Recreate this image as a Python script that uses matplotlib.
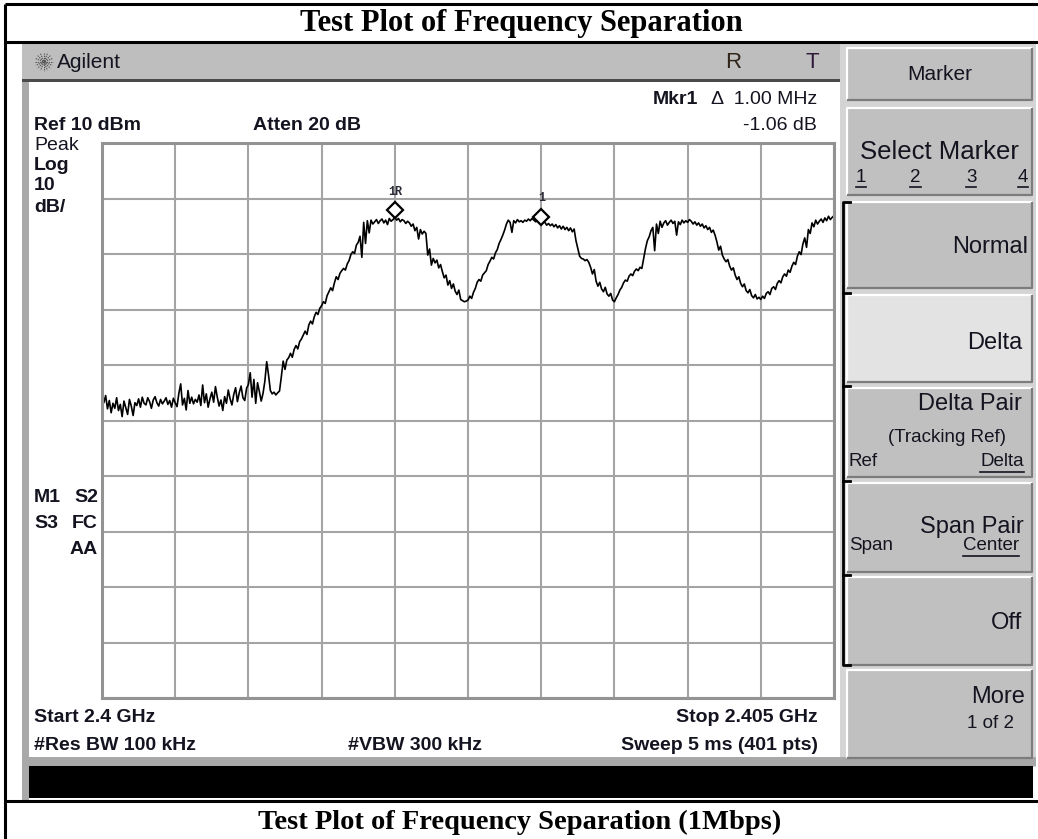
#!/usr/bin/env python3
'''Spectrum analyser screen capture: frequency separation test plot.'''

import matplotlib
matplotlib.use('Agg')
import matplotlib.pyplot as plt
from matplotlib.patches import Rectangle
from matplotlib.transforms import offset_copy
import numpy as np


W, H = 1038, 839

start_mhz = 2400.0
stop_mhz = 2405.0
points = 401
ref_dbm = 10
db_per_div = 10

# trace in dBm, one value per sweep point (40 points per division)
trace_div0 = [-35.2, -36.8, -35.5, -37.9, -36.4, -38.6, -36.9, -37.8, -35.9, -38.2,
              -37.1, -39.3, -36.5, -37.7, -38.9, -36.2, -37.4, -39.1, -36.8, -37.3,
              -36.1, -37.6, -35.8, -36.9, -37.2, -35.9, -36.6, -37.8, -36.3, -35.7,
              -36.8, -37.4, -36.2, -37.0, -36.5, -35.9, -37.1, -36.4, -37.6, -36.0]
trace_div1 = [-36.8, -37.5, -35.1, -33.4, -37.2, -36.0, -38.1, -34.6, -36.9, -35.8,
              -37.0, -36.2, -36.7, -35.4, -37.3, -33.6, -36.8, -35.2, -37.6, -36.1,
              -34.9, -36.7, -33.9, -35.8, -37.4, -36.3, -38.2, -35.7, -36.9, -34.5,
              -36.1, -37.2, -35.3, -34.1, -36.6, -35.0, -33.8, -35.9, -36.4, -34.2]
trace_div2 = [-33.5, -31.4, -35.8, -32.6, -36.9, -33.2, -34.8, -36.5, -35.1, -32.9,
              -29.4, -31.8, -34.6, -35.2, -34.9, -35.4, -35.0, -34.7, -32.1, -29.3,
              -30.8, -29.1, -28.7, -27.9, -28.6, -27.2, -26.5, -27.1, -25.8, -25.3,
              -24.6, -23.9, -24.5, -22.8, -22.1, -22.6, -21.3, -20.5, -20.9, -19.8]
trace_div3 = [-19.3, -18.6, -18.9, -17.5, -16.8, -16.1, -16.6, -15.2, -14.1, -14.6,
              -13.5, -13.0, -12.6, -12.9, -11.8, -11.2, -10.1, -9.6, -9.9, -8.4,
              -7.9, -6.8, -10.6, -4.3, -8.1, -4.0, -6.2, -3.9, -4.6, -4.2,
              -3.8, -4.5, -4.0, -3.7, -4.4, -3.9, -4.7, -3.6, -4.1, -3.8]
trace_div4 = [-3.4, -3.9, -3.6, -4.2, -3.8, -4.0, -4.5, -4.1, -4.4, -5.0,
              -4.6, -5.8, -5.2, -7.3, -5.6, -6.4, -5.9, -6.3, -10.2, -9.1,
              -12.0, -10.8, -11.6, -11.1, -12.5, -11.9, -13.2, -14.3, -13.8, -15.6,
              -14.8, -16.2, -15.4, -16.7, -17.3, -16.5, -18.2, -18.4, -18.6, -18.5]
trace_div5 = [-18.3, -17.6, -18.0, -16.9, -16.2, -15.1, -14.6, -14.9, -13.8, -13.4,
              -13.0, -11.9, -11.3, -10.6, -10.9, -9.8, -9.2, -8.1, -7.4, -6.6,
              -5.7, -4.6, -3.9, -4.3, -6.1, -4.0, -4.4, -3.8, -4.2, -4.0,
              -4.3, -3.9, -4.1, -3.7, -4.0, -3.6, -3.9, -4.2, -3.8, -4.1]
trace_div6 = [-4.5, -4.0, -4.3, -4.8, -4.5, -4.9, -4.6, -5.1, -4.7, -5.3,
              -4.9, -5.5, -5.0, -5.6, -5.2, -5.8, -5.3, -6.0, -5.5, -7.6,
              -9.0, -10.4, -10.8, -10.9, -11.2, -11.0, -11.5, -12.4, -13.6, -12.8,
              -14.9, -15.8, -15.1, -16.3, -16.8, -16.0, -17.2, -17.6, -17.1, -18.3]
trace_div7 = [-18.6, -17.9, -17.3, -16.5, -16.0, -15.2, -14.7, -14.9, -14.0, -13.6,
              -13.9, -13.1, -12.7, -13.0, -12.4, -12.6, -10.8, -9.0, -7.6, -6.9,
              -5.8, -5.2, -9.4, -4.6, -6.3, -4.1, -5.2, -4.4, -4.0, -4.8,
              -4.3, -3.9, -4.5, -4.1, -6.6, -4.2, -4.7, -3.9, -4.4, -4.0]
trace_div8 = [-4.3, -3.8, -4.1, -4.6, -4.2, -4.8, -4.4, -5.0, -4.6, -5.3,
              -4.9, -5.6, -5.2, -6.1, -5.7, -6.6, -7.8, -9.3, -8.6, -10.2,
              -10.9, -11.4, -11.0, -12.2, -12.9, -12.5, -13.8, -14.6, -14.1, -15.3,
              -15.9, -15.4, -16.6, -17.0, -16.4, -17.5, -17.9, -17.3, -18.1, -17.8]
trace_div9 = [-18.2, -17.6, -18.0, -17.1, -16.8, -17.3, -16.2, -15.9, -16.4, -15.3,
              -14.8, -15.2, -14.1, -13.6, -14.0, -12.9, -13.3, -12.2, -11.5, -11.9,
              -10.4, -9.6, -10.1, -8.2, -7.1, -8.8, -5.6, -6.3, -4.4, -5.1,
              -3.9, -4.6, -4.1, -3.7, -4.3, -3.5, -4.0, -3.2, -3.8, -3.4,
              -3.1]

marker_idx = [160, 240]
marker_names = ['1R', '1']

softkeys = ['Normal', 'Delta', 'Delta Pair', 'Span Pair', 'Off', 'More']

FONT = 'Liberation Sans'
INK = '#141420'


def px(ax, x, y, s, size=14, weight='normal', ha='left', family=FONT, color=INK, **kw):
	return ax.text(x, y, s, fontsize=size, fontweight=weight, ha=ha, va='center',
		family=family, color=color, **kw)


def rect(ax, x0, y0, x1, y1, color):
	ax.add_patch(Rectangle((x0, y0), x1 - x0, y1 - y0, facecolor=color, edgecolor='none'))


def button(ax, x0, y0, x1, y1, face='#c0c0c0'):
	rect(ax, x0, y0, x1, y1, face)
	ax.plot([x0, x0, x1], [y1, y0, y0], color='white', lw=1.6, solid_capstyle='butt')
	ax.plot([x0, x1, x1], [y1, y1, y0], color='#7c7c7c', lw=1.6, solid_capstyle='butt')


def underline(ax, t, fig):
	fig.canvas.draw()
	bb = t.get_window_extent(fig.canvas.get_renderer())
	inv = ax.transData.inverted()
	(xa, ya), (xb, yb) = inv.transform([(bb.x0, bb.y0), (bb.x1, bb.y0)])
	ax.plot([xa, xb], [ya + 1, yb + 1], color=INK, lw=1.2)


fig = plt.figure(figsize=(W / 100, H / 100), dpi=100)
fig.patch.set_facecolor('white')

bg = fig.add_axes([0, 0, 1, 1])
bg.set_xlim(0, W)
bg.set_ylim(H, 0)
bg.axis('off')

# instrument screen
rect(bg, 22, 43, 842, 80, '#bebebe')
rect(bg, 22, 79, 842, 82, '#4a4a4a')
rect(bg, 22, 82, 29, 801, '#a9a9a9')
rect(bg, 840, 43, 1036, 767, '#d4d4d4')
rect(bg, 29, 757, 1036, 766, '#a8a8a8')
rect(bg, 29, 766, 1033, 798, 'black')

# header
for a in np.linspace(0, np.pi, 8, endpoint=False):
	dx, dy = np.cos(a) * 9, np.sin(a) * 9
	bg.plot([44 - dx, 44 + dx], [62 - dy, 62 + dy], color='#555', lw=0.8, ls=(0, (1.2, 0.8)))
px(bg, 57, 62, 'Agilent', size=15)
px(bg, 733, 62, 'R', size=16, ha='center', color='#302418')
px(bg, 812, 62, 'T', size=16, ha='center', color='#301838')

# annotation text on the screen
px(bg, 653, 100, 'Mkr1', weight='bold')
px(bg, 817, 100, '\u0394  1.00 MHz', ha='right')
px(bg, 34, 126, 'Ref 10 dBm', weight='bold')
px(bg, 253, 126, 'Atten 20 dB', weight='bold')
px(bg, 817, 126, '-1.06 dB', ha='right')
px(bg, 34, 145, 'Peak')
px(bg, 34, 165, 'Log', weight='bold')
px(bg, 34, 186, '10', weight='bold')
px(bg, 34, 207, 'dB/', weight='bold')
px(bg, 34, 498, 'M1', weight='bold')
px(bg, 98, 498, 'S2', weight='bold', ha='right')
px(bg, 34, 524, 'S3', weight='bold')
px(bg, 98, 524, 'FC', weight='bold', ha='right')
px(bg, 98, 549, 'AA', weight='bold', ha='right')
px(bg, 34, 718, 'Start 2.4 GHz', weight='bold')
px(bg, 818, 718, 'Stop 2.405 GHz', weight='bold', ha='right')
px(bg, 34, 745, '#Res BW 100 kHz', weight='bold')
px(bg, 348, 745, '#VBW 300 kHz', weight='bold')
px(bg, 818, 745, 'Sweep 5 ms (401 pts)', weight='bold', ha='right')

# softkey panel
button(bg, 847, 48, 1032, 100)
px(bg, 940, 74, 'Marker', size=15, ha='center')
button(bg, 847, 108, 1032, 195)
px(bg, 939, 152, 'Select Marker', size=18.5, ha='center')
keys_top = [202, 295, 388, 483, 577, 670]
keys_bot = [288, 382, 477, 572, 665, 758]
for i, name in enumerate(softkeys):
	button(bg, 847, keys_top[i], 1032, keys_bot[i], '#e3e3e3' if name == 'Delta' else '#c0c0c0')

px(bg, 1028, 247, 'Normal', size=17, ha='right')
px(bg, 1022, 343, 'Delta', size=17, ha='right')
px(bg, 1022, 404, 'Delta Pair', size=17, ha='right')
px(bg, 1006, 437, '(Tracking Ref)', size=13.5, ha='right')
px(bg, 849, 462, 'Ref', size=13.5)
px(bg, 1024, 527, 'Span Pair', size=17, ha='right')
px(bg, 849, 546, 'Span', size=13.5)
px(bg, 1022, 623, 'Off', size=17, ha='right')
px(bg, 1025, 697, 'More', size=17, ha='right')
px(bg, 1014, 723, '1 of 2', size=13.5, ha='right')

# bracket grouping the marker mode keys
bg.plot([850, 843, 843, 850], [keys_top[0], keys_top[0], keys_bot[4], keys_bot[4]], color='black', lw=2)
for y in keys_top[1:5]:
	bg.plot([843, 850], [y - 2, y - 2], color='black', lw=2)

under = [px(bg, 856, 177, '1', size=13.5), px(bg, 910, 177, '2', size=13.5),
	px(bg, 966, 177, '3', size=13.5), px(bg, 1028, 177, '4', size=13.5, ha='right'),
	px(bg, 1024, 462, 'Delta', size=13.5, ha='right'),
	px(bg, 1019, 546, 'Center', size=13.5, ha='right')]
for t in under:
	underline(bg, t, fig)

# document frame and captions
for xs, ys in [([5, W], [4, 4]), ([5, 5], [4, H]), ([5, W], [42, 42]), ([5, W], [801, 801])]:
	bg.plot(xs, ys, color='black', lw=2.2, solid_capstyle='butt')
bg.text(521, 23, 'Test Plot of Frequency Separation', fontsize=22, fontweight='bold',
	family='Liberation Serif', ha='center', va='center')
bg.text(520, 822, 'Test Plot of Frequency Separation (1Mbps)', fontsize=20.5, fontweight='bold',
	family='Liberation Serif', ha='center', va='center')

# graticule and trace
ax = fig.add_axes([102 / W, 1 - 698 / H, 732 / W, 555 / H])
ax.set_facecolor('white')
ax.set_xlim(start_mhz, stop_mhz)
ax.set_ylim(ref_dbm - 10 * db_per_div, ref_dbm)
ax.set_xticks(np.linspace(start_mhz, stop_mhz, 11))
ax.set_yticks(np.arange(ref_dbm - 10 * db_per_div, ref_dbm + 1, db_per_div))
ax.tick_params(length=0, labelbottom=False, labelleft=False)
ax.grid(True, color='#a4a4a4', lw=1.5)
for s in ax.spines.values():
	s.set_color('#939393')
	s.set_linewidth(2.2)

trace = (trace_div0 + trace_div1 + trace_div2 + trace_div3 + trace_div4 + trace_div5
	+ trace_div6 + trace_div7 + trace_div8 + trace_div9)
freq = np.linspace(start_mhz, stop_mhz, points)
ax.plot(freq, trace, color='black', lw=1.2)

lifted = offset_copy(ax.transData, fig=fig, x=0, y=5, units='points')
for i, name in zip(marker_idx, marker_names):
	ax.plot(freq[i], trace[i], marker='D', ms=8, mfc='white', mec='black', mew=1.6,
		transform=lifted, clip_on=False)
	ax.annotate(name, (freq[i], trace[i]), xytext=(0, 18), textcoords='offset points',
		ha='center', va='center', fontsize=8.5, fontweight='bold', family='Liberation Mono',
		color='#2a2a38')

fig.savefig('out.png', dpi=100)
